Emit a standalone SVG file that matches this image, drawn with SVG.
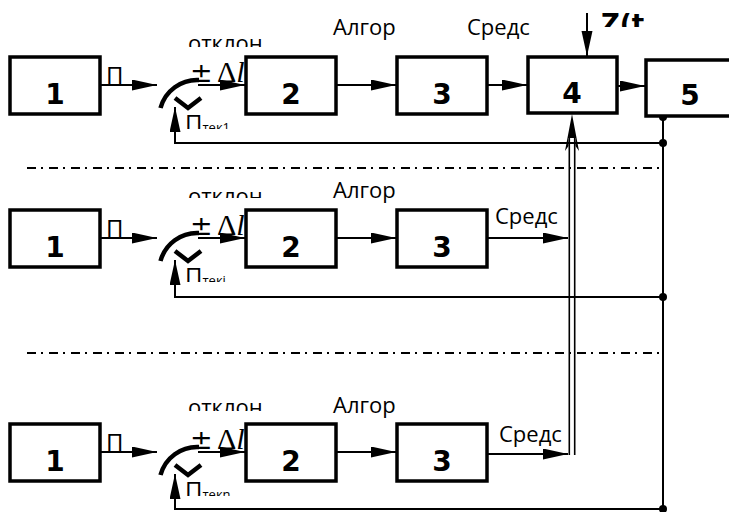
<svg xmlns="http://www.w3.org/2000/svg" width="729" height="512" viewBox="0 0 729 512">
  <style>
    .box { fill: #fff; stroke: #000; stroke-width: 3.5; }
    .num { font-family: "DejaVu Sans", sans-serif; font-weight: bold; font-size: 28px; text-anchor: middle; fill: #000; }
    .lbl { font-family: "Open Sans", sans-serif; font-size: 22px; fill: #000; }
    .pi { font-family: "Open Sans", sans-serif; font-size: 24px; fill: #000; }
    .sub { font-size: 13px; }
    .pm { font-family: "DejaVu Sans", sans-serif; font-size: 27px; fill: #000; }
    .math { font-family: "Liberation Serif", serif; font-size: 30px; fill: #000; }
    .wire { fill: none; stroke: #000; stroke-width: 2; }
    .arr { marker-end: url(#head); }
    .sum { fill: none; stroke: #000; stroke-width: 4.5; }
    .dash { fill: none; stroke: #000; stroke-width: 2; stroke-dasharray: 9 5 2 6; }
    .dbl { fill: none; stroke: #000; stroke-width: 1.6; }
  </style>
  <defs>
    <marker id="head" markerUnits="userSpaceOnUse" markerWidth="26" markerHeight="12" refX="25" refY="5.5" orient="auto">
      <path d="M0,0 L25,5.5 L0,11 z" fill="#000"/>
    </marker>
    <clipPath id="cutOtk1"><rect x="150" y="0" width="120" height="47"/></clipPath>
    <clipPath id="cutOtk2"><rect x="150" y="150" width="120" height="48"/></clipPath>
    <clipPath id="cutOtk3"><rect x="150" y="360" width="120" height="51"/></clipPath>
    <clipPath id="cutP1"><rect x="180" y="100" width="70" height="29"/></clipPath>
    <clipPath id="cutP2"><rect x="180" y="253" width="70" height="29"/></clipPath>
    <clipPath id="cutP3"><rect x="180" y="467" width="70" height="29"/></clipPath>
    <clipPath id="cutZ"><rect x="595" y="0" width="49" height="27"/></clipPath>
  </defs>
  <rect width="729" height="512" fill="#fff"/>

  <!-- separators between the channels -->
  <line class="dash" x1="27" y1="168" x2="661" y2="168"/>
  <line class="dash" x1="27" y1="353" x2="661" y2="353"/>

  <!-- signal labels -->
  <g id="labels">
    <text class="lbl" x="188" y="51" clip-path="url(#cutOtk1)">отклон</text>
    <text class="lbl" x="188" y="204" clip-path="url(#cutOtk2)">отклон</text>
    <text class="lbl" x="188" y="415" clip-path="url(#cutOtk3)">отклон</text>
    <text class="lbl" x="333" y="35">Алгор</text>
    <text class="lbl" x="333" y="198">Алгор</text>
    <text class="lbl" x="333" y="413">Алгор</text>
    <text class="lbl" x="467" y="35">Средс</text>
    <text class="lbl" x="495" y="224">Средс</text>
    <text class="lbl" x="499" y="442">Средс</text>
    <text class="pi" x="106" y="84">П</text>
    <text class="pi" x="106" y="237">П</text>
    <text class="pi" x="106" y="451">П</text>
    <text class="pi" x="185" y="132" clip-path="url(#cutP1)">П<tspan class="sub">тек1</tspan></text>
    <text class="pi" x="185" y="285" clip-path="url(#cutP2)">П<tspan class="sub">текi</tspan></text>
    <text class="pi" x="185" y="499" clip-path="url(#cutP3)">П<tspan class="sub">текn</tspan></text>
    <text class="pm" x="190" y="82">±</text>
    <text class="math" x="217" y="82">Δ<tspan font-style="italic">l</tspan></text>
    <text class="pm" x="190" y="235">±</text>
    <text class="math" x="217" y="235">Δ<tspan font-style="italic">l</tspan></text>
    <text class="pm" x="190" y="449">±</text>
    <text class="math" x="217" y="449">Δ<tspan font-style="italic">l</tspan></text>
    <text x="601" y="33" font-family="DejaVu Sans, sans-serif" font-weight="bold" font-size="26" clip-path="url(#cutZ)">Z(t)</text>
  </g>

  <!-- connectors -->
  <g id="connectors">
    <!-- channel 1 -->
    <line class="wire arr" x1="100" y1="85" x2="157" y2="85"/>
    <line class="wire arr" x1="198" y1="85" x2="245" y2="85"/>
    <line class="wire arr" x1="336" y1="85" x2="396" y2="85"/>
    <line class="wire arr" x1="487" y1="85" x2="527" y2="85"/>
    <line class="wire arr" x1="617" y1="86" x2="645" y2="86"/>
    <line class="wire arr" x1="587" y1="13" x2="587" y2="56"/>
    <polyline class="wire arr" points="663,143 175,143 175,107"/>
    <!-- channel 2 -->
    <line class="wire arr" x1="100" y1="238" x2="157" y2="238"/>
    <line class="wire arr" x1="198" y1="238" x2="245" y2="238"/>
    <line class="wire arr" x1="336" y1="238" x2="396" y2="238"/>
    <line class="wire arr" x1="487" y1="238" x2="568" y2="238"/>
    <polyline class="wire arr" points="663,297 175,297 175,260"/>
    <!-- channel n -->
    <line class="wire arr" x1="100" y1="452" x2="157" y2="452"/>
    <line class="wire arr" x1="198" y1="452" x2="245" y2="452"/>
    <line class="wire arr" x1="336" y1="452" x2="396" y2="452"/>
    <line class="wire arr" x1="487" y1="454" x2="568" y2="454"/>
    <polyline class="wire arr" points="663,509 175,509 175,474"/>
    <!-- common output bus -->
    <line class="wire" x1="663" y1="116" x2="663" y2="509"/>
    <circle cx="663" cy="117" r="4"/>
    <circle cx="663" cy="143" r="4"/>
    <circle cx="663" cy="297" r="4"/>
    <circle cx="663" cy="509" r="4"/>
    <!-- double line into block 4 -->
    <line class="dbl" x1="569.3" y1="138" x2="569.3" y2="455"/>
    <line class="dbl" x1="574.7" y1="138" x2="574.7" y2="455"/>
    <path d="M572,114 L579,151 L575.5,146 L575.5,138 L568.5,138 L568.5,146 L565,151 z" fill="#000"/>
  </g>

  <!-- comparison elements -->
  <g id="sum1">
    <path class="sum" d="M160.5,108 A38,38 0 0 1 199,80"/>
    <polyline class="sum" points="175,98 188,108 201,98"/>
  </g>
  <g id="sum2">
    <path class="sum" d="M160.5,261 A38,38 0 0 1 199,233"/>
    <polyline class="sum" points="175,251 188,261 201,251"/>
  </g>
  <g id="sum3">
    <path class="sum" d="M160.5,475 A38,38 0 0 1 199,447"/>
    <polyline class="sum" points="175,465 188,475 201,465"/>
  </g>

  <!-- channel 1 blocks -->
  <g id="b1-1"><rect class="box" x="10" y="57" width="90" height="57"/><text class="num" x="55" y="104">1</text></g>
  <g id="b2-1"><rect class="box" x="246" y="57" width="90" height="57"/><text class="num" x="291" y="104">2</text></g>
  <g id="b3-1"><rect class="box" x="397" y="57" width="90" height="57"/><text class="num" x="442" y="104">3</text></g>
  <g id="b4"><rect class="box" x="528" y="57" width="89" height="56"/><text class="num" x="572" y="103">4</text></g>
  <g id="b5"><rect class="box" x="646" y="60" width="100" height="56"/><text class="num" x="690" y="105">5</text></g>

  <!-- channel 2 blocks -->
  <g id="b1-2"><rect class="box" x="10" y="210" width="90" height="57"/><text class="num" x="55" y="257">1</text></g>
  <g id="b2-2"><rect class="box" x="246" y="210" width="90" height="57"/><text class="num" x="291" y="257">2</text></g>
  <g id="b3-2"><rect class="box" x="397" y="210" width="90" height="57"/><text class="num" x="442" y="257">3</text></g>

  <!-- channel n blocks -->
  <g id="b1-3"><rect class="box" x="10" y="424" width="90" height="57"/><text class="num" x="55" y="471">1</text></g>
  <g id="b2-3"><rect class="box" x="246" y="424" width="90" height="57"/><text class="num" x="291" y="471">2</text></g>
  <g id="b3-3"><rect class="box" x="397" y="424" width="90" height="57"/><text class="num" x="442" y="471">3</text></g>
</svg>
